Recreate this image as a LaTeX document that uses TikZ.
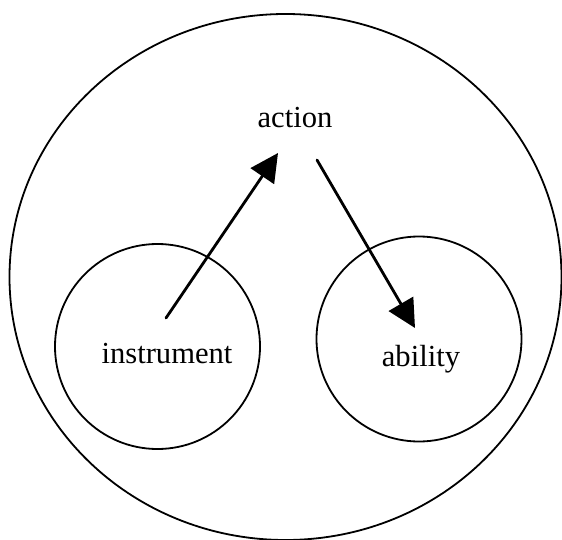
\documentclass[tikz,border=0pt]{standalone}
\usepackage{fontspec}
\setmainfont{Liberation Serif}
\usepackage{tikz}
\usetikzlibrary{arrows.meta,positioning,shapes.geometric}
\definecolor{ink}{HTML}{000000}
\tikzset{
  sketch diagram/.style={
    x=0.5pt,
    y=-0.5pt,
    font=\fontsize{15.3}{18}\selectfont,
    line cap=round,
    line join=round
  },
  outerring/.style={
    draw=ink,
    ellipse,
    line width=0.9pt,
    minimum width=276pt,
    minimum height=263pt,
    inner sep=0pt
  },
  innerring/.style={
    draw=ink,
    circle,
    line width=0.9pt,
    minimum size=102.5pt,
    inner sep=0pt
  },
  wordlabel/.style={
    inner sep=1pt,
    text=ink
  },
  linkarrow/.style={
    -{Triangle[length=14pt,width=14pt]},
    draw=ink,
    line width=1.4pt
  }
}

\begin{document}
\begin{tikzpicture}[sketch diagram]
\useasboundingbox (0,0) rectangle (562,540);
\node[outerring] (frame) at (285.5,277) {};
\node[innerring] (instrumentring) at (157.5,346.5) {};
\node[innerring] (abilityring) at (419,339) {};
\node[wordlabel] (action) at (295,118) {action};
\node[wordlabel] (instrument) at (167,354) {instrument};
\node[wordlabel] (ability) at (421,359) {ability};

\coordinate (fromtool) at (166,318);
\coordinate (intoaction) at (278,153);
\coordinate (fromaction) at (317,160);
\coordinate (intoability) at (415,328);

\draw[linkarrow] (fromtool) -- (intoaction);
\draw[linkarrow] (fromaction) -- (intoability);
\end{tikzpicture}
\end{document}
